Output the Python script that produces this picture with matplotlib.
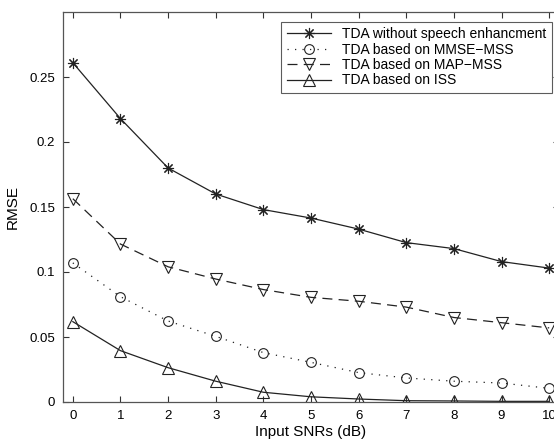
import numpy as np
import matplotlib
matplotlib.use("Agg")
import matplotlib.pyplot as plt

plt.rcParams["font.family"] = ["Liberation Sans", "DejaVu Sans"]

# ─── datos ────────────────────────────────────────────────────
snr = [0, 1, 2, 3, 4, 5, 6, 7, 8, 9, 10]
rmse_sin   = [0.261, 0.218, 0.180, 0.160, 0.148, 0.1415, 0.133, 0.1226, 0.118, 0.108, 0.103]
rmse_mmse  = [0.107, 0.081, 0.0623, 0.0505, 0.038, 0.0305, 0.0226, 0.0185, 0.016, 0.0146, 0.0105]
rmse_map   = [0.1564, 0.1215, 0.104, 0.0946, 0.0865, 0.0805, 0.0775, 0.073, 0.065, 0.061, 0.057]
rmse_iss   = [0.0618, 0.0395, 0.0264, 0.016, 0.0075, 0.004, 0.0023, 0.001, 0.0008, 0.0005, 0.0005]

labels = ["TDA without speech enhancment",
          "TDA based on MMSE\u2212MSS",
          "TDA based on MAP\u2212MSS",
          "TDA based on ISS"]

fig = plt.figure(figsize=(5.54, 4.43), dpi=100)
# el eje derecho queda fuera de la imagen, como en el original
ax = fig.add_axes([63.3 / 554, (443 - 402) / 443, (558.7 - 63.3) / 554, (402 - 12) / 443])

col = "#222222"
ax.plot(snr, rmse_sin, "-", color=col, lw=0.9, marker=(8, 2, 0), ms=8, mew=0.8,
        label=labels[0])
ax.plot(snr, rmse_mmse, ":", color=col, lw=0.9, marker="o", ms=7, mfc="none", mew=0.8,
        dashes=(1, 5), label=labels[1])
ax.plot(snr, rmse_map, "--", color=col, lw=0.9, marker="v", ms=8, mfc="none", mew=0.8,
        dashes=(8, 5), label=labels[2])
ax.plot(snr, rmse_iss, "-", color=col, lw=0.9, marker="^", ms=8, mfc="none", mew=0.8,
        label=labels[3])

ax.set_xlim(-0.2, 10.2)
ax.set_ylim(0, 0.3)
ax.set_xticks(snr)
ax.set_yticks([0, 0.05, 0.1, 0.15, 0.2, 0.25])
ax.set_yticklabels(["0", "0.05", "0.1", "0.15", "0.2", "0.25"])
ax.tick_params(direction="in", top=True, right=True, length=4, labelsize=9.5,
               color="#333333", pad=6)
for s in ax.spines.values():
    s.set_color("#555555")
    s.set_linewidth(0.9)

ax.set_xlabel("Input SNRs (dB)", fontsize=11, labelpad=2)
ax.set_ylabel("RMSE", fontsize=11, labelpad=7)

leg = ax.legend(loc="upper right", fontsize=10, frameon=True, fancybox=False,
                handlelength=3.2, handletextpad=0.8, borderpad=0.4,
                labelspacing=0.1, borderaxespad=0)
leg.set_bbox_to_anchor((552 / 554, 1 - 21.7 / 443), transform=fig.transFigure)
leg.get_frame().set_edgecolor("#333333")
leg.get_frame().set_linewidth(0.8)

fig.savefig("out.png", dpi=100)
